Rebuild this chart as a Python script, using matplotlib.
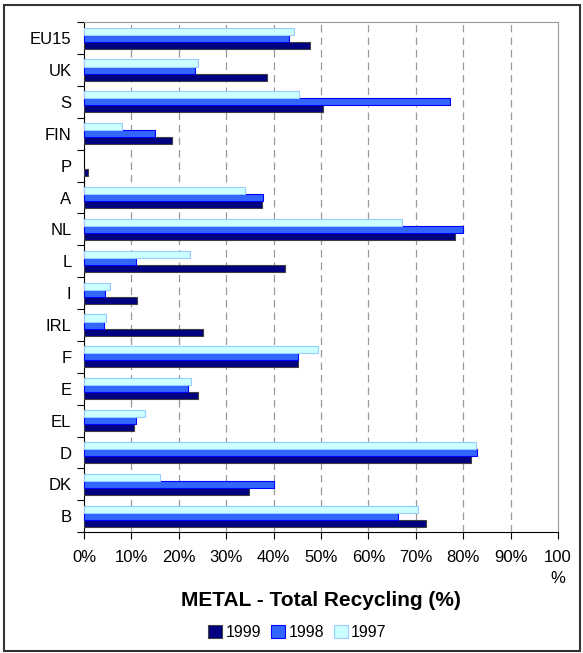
import numpy as np
import matplotlib.pyplot as plt
from matplotlib.patches import Rectangle

# categories bottom -> top
countries = ["B", "DK", "D", "EL", "E", "F", "IRL", "I", "L", "NL", "A", "P", "FIN", "S", "UK", "EU15"]
y1999 = [72.1, 34.9, 81.6, 10.6, 24.1, 45.2, 25.2, 11.2, 42.5, 78.2, 37.6, 0.8, 18.6, 50.5, 38.7, 47.6]
y1998 = [66.2, 40.2, 82.9, 11.0, 22.0, 45.2, 4.2, 4.4, 11.0, 79.9, 37.7, 0.0, 15.0, 77.2, 23.5, 43.3]
y1997 = [70.4, 16.1, 82.7, 12.9, 22.6, 49.3, 4.7, 5.5, 22.4, 67.2, 34.0, 0.0, 8.0, 45.4, 24.1, 44.4]
x_ticks = [0, 10, 20, 30, 40, 50, 60, 70, 80, 90, 100]
x_labels = ["0%", "10%", "20%", "30%", "40%", "50%", "60%", "70%", "80%", "90%", "100\n%"]

plt.rcParams["font.family"] = ["Liberation Sans", "DejaVu Sans"]

fig = plt.figure(figsize=(5.83, 6.53), dpi=100)
ax = fig.add_axes([0.144, 0.185, 0.813, 0.781])

pos = np.arange(len(countries))
h = 0.22


def edge_widths(values):
    # 0 值不画边框，避免出现细线
    return [0 if v == 0 else 0.8 for v in values]


ax.barh(pos - h, y1999, height=h, color="#000080", edgecolor="#404040",
        linewidth=edge_widths(y1999), label="1999", zorder=3)
ax.barh(pos, y1998, height=h, color="#3366FF", edgecolor="#0000FF",
        linewidth=edge_widths(y1998), label="1998", zorder=3)
ax.barh(pos + h, y1997, height=h, color="#CCFFFF", edgecolor="#99CCFF",
        linewidth=edge_widths(y1997), label="1997", zorder=3)

ax.set_xlim(0, 100)
ax.set_ylim(-0.5, len(countries) - 0.5)
ax.set_xticks(x_ticks)
ax.set_xticklabels(x_labels, fontsize=12, va="top", linespacing=1.45)
ax.set_yticks(np.arange(-0.5, len(countries), 1.0))
ax.set_yticklabels([])
ax.set_yticks(pos, minor=True)
ax.set_yticklabels(countries, minor=True, fontsize=12)
ax.tick_params(axis="y", which="minor", length=0, pad=9)
ax.tick_params(axis="y", which="major", length=5, direction="out")
ax.tick_params(axis="x", length=5, direction="out", pad=8)

for x in x_ticks[1:-1]:
    ax.axvline(x, color="#999999", linestyle=(0, (6, 4)), linewidth=0.9, zorder=1)

ax.spines["top"].set_color("#999999")
ax.spines["right"].set_color("#999999")
ax.spines["left"].set_color("black")
ax.spines["bottom"].set_color("black")

ax.set_xlabel("METAL - Total Recycling (%)", fontsize=15, fontweight="bold", labelpad=4)

handles, labels = ax.get_legend_handles_labels()
fig.legend(handles, labels, loc="center", bbox_to_anchor=(0.51, 0.031), ncol=3, frameon=False,
           fontsize=11.5, handlelength=0.9, handleheight=0.9, handletextpad=0.2, columnspacing=0.6)

fig.add_artist(Rectangle((0.007, 0.003), 0.988, 0.989, transform=fig.transFigure,
                         fill=False, edgecolor="#333333", linewidth=1.5))

fig.savefig("out.png", dpi=100)
